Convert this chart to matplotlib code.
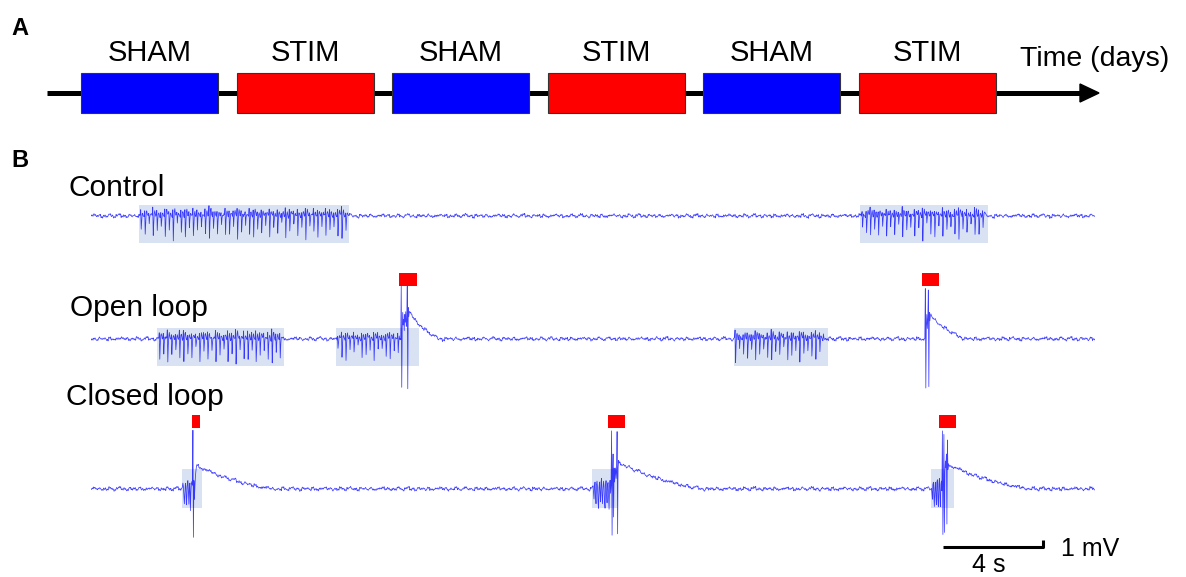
import numpy as np
import matplotlib
matplotlib.use('Agg')
import matplotlib.pyplot as plt
from matplotlib.patches import Rectangle, Polygon

plt.rcParams['font.family'] = ['Liberation Sans', 'DejaVu Sans']

# ---- panel A: protocol ----
phase_labels = ['SHAM', 'STIM', 'SHAM', 'STIM', 'SHAM', 'STIM']
phase_colors = ['#0000ff', '#ff0000', '#0000ff', '#ff0000', '#0000ff', '#ff0000']

# ---- panel B: traces (time in s, voltage in mV) ----
dt = 0.02
t_end = 40.0

# baseline wiggle (mV)
noise_fast = [0.06, -0.04, 0.12, 0.02, -0.09, 0.05, 0.15, -0.03, -0.11, 0.04,
              0.08, -0.06, 0.01, 0.14, -0.05, -0.12, 0.03, 0.09, -0.01, 0.11,
              -0.08, 0.02, 0.06, -0.15, 0.05, 0.10, -0.03, -0.07, 0.13, 0.00,
              -0.10, 0.07, 0.04, -0.05, 0.12, -0.02, 0.08]
noise_slow = [0.05, 0.18, -0.04, 0.11, -0.16, 0.02, -0.09, 0.21, 0.00, -0.18,
              0.09, 0.24, -0.07, 0.04, -0.20, 0.14, -0.02, 0.08, -0.13, 0.17,
              -0.06, -0.12, 0.03]

# seizure spike depths (mV) and shape of one spike
burst_depth = [1.8, 2.6, 1.2, 3.1, 2.2, 1.5, 2.9, 1.9, 3.4, 1.3, 2.4, 2.8, 1.6,
               3.0, 2.1, 1.4, 2.7, 3.3, 1.8, 2.3, 1.1, 2.9, 2.5, 1.7, 3.2, 2.0,
               1.5, 2.6, 3.0, 1.9, 2.4, 1.3, 2.8]
spike_shape = [0.0, 0.35, -1.0, -0.3, 0.15, 0.25, 0.1, 0.0]

# after-stimulus decay envelope
decay_x = [0, 0.08, 0.17, 0.25, 0.33, 0.42, 0.5, 0.58, 0.67, 0.75, 0.83, 0.92, 1.0]
decay_y = [1.0, 0.87, 0.75, 0.64, 0.54, 0.45, 0.37, 0.29, 0.22, 0.15, 0.09, 0.04, 0.0]

# Control
ctrl_bursts = [(1.95, 10.25, 1.0), (30.7, 35.65, 1.0)]
ctrl_shades = [(1.91, 10.28), (30.64, 35.74)]

# Open loop
open_bursts = [(2.7, 7.6, 1.1), (9.8, 12.3, 0.9), (25.65, 29.2, 1.0)]
open_shades = [(2.63, 7.69), (9.76, 13.07), (25.62, 29.36)]
open_stim_on = [12.35, 33.25]
open_stim_vals = [[7.7, -6.9, 1.5, 3.8, 2.0, 2.8, 1.2, 3.5, 2.4, 3.9, 1.8, 2.6,
                   7.7, -7.1, 4.5, 3.2, 3.9],
                  [7.2, -7.0, 2.0, 3.5, 1.5, 3.0, 7.0, -6.8, 3.8, 2.6, 3.3]]
open_decay_amp = [3.7, 3.3]
open_decay_dur = [1.2, 1.4]
open_red = [(12.27, 12.97), (33.1, 33.8)]

# Closed loop
closed_shades = [(3.63, 4.42), (19.96, 20.96), (33.47, 34.38)]
closed_pre_on = [3.65, 19.98, 33.48]
closed_pre = [[0.3, 0.8, 0.2, -0.6, -1.8, -0.5, 0.9, 0.6, -2.5, -1.2, 0.8, 1.0,
               -0.3, -2.2, 0.2, 0.9, -3.0, -0.6, 0.7, 1.1, 0.4],
              [0.2, 0.6, -0.4, -1.5, 0.3, 0.9, -0.8, -2.2, 0.5, 1.2, 0.1, -1.6,
               -2.6, 0.4, 1.0, -0.5, -1.9, 0.7, 1.3, -1.0, -2.4, 0.2, 1.1, 0.3,
               -1.7, -2.8, 0.6, 1.4, -0.6, -2.0, 0.8, 1.0, -1.2, -3.0, 0.4, 1.2,
               -0.8, 0.5],
              [0.3, -0.5, -1.6, 0.6, 1.0, -1.2, -2.3, 0.4, 1.1, -0.8, -2.0, 0.7,
               1.2, -1.5, -2.7, 0.5, 1.4, -0.9, -2.4, 0.6, 1.0, -0.3]]
closed_stim_vals = [[8.4, -6.9, 1.2, -1.5, 0.4, 1.8, 2.6, 3.2],
                    [8.3, -6.6, 2.0, 5.0, -4.0, 3.0, 1.0, 2.2, 3.0, 1.5, 2.5,
                     8.2, -6.4, 3.0, 4.1, 3.7],
                    [8.3, -6.5, 1.0, 7.8, -6.2, 2.5, 4.0, 3.0, 5.0, -5.0, 7.0,
                     2.8, 3.6, 3.4]]
closed_decay_amp = [3.3, 3.7, 3.4]
closed_decay_dur = [3.0, 3.3, 3.2]
closed_red = [(4.02, 4.34), (20.6, 21.27), (33.78, 34.46)]

t = np.arange(0, t_end + dt / 2, dt)
n = len(t)


def idx(sec):
    return int(round(sec / dt))


def build_trace(shift, bursts=(), stim_on=(), stim_vals=(), decay_amp=(),
                decay_dur=(), pre_on=(), pre_vals=()):
    v = np.resize(np.roll(noise_fast, shift), n)
    v = v + np.resize(np.repeat(np.roll(noise_slow, shift), 5), n)
    for k, (t0, t1, sc) in enumerate(bursts):
        i0, i1 = idx(t0), idx(t1)
        depths = np.roll(burst_depth, 7 * k + shift)
        train = np.outer(np.resize(depths, (i1 - i0) // 8 + 1), spike_shape).ravel()
        v[i0:i1] += sc * train[:i1 - i0]
    for k in range(len(pre_on)):
        p0 = idx(pre_on[k])
        v[p0:p0 + len(pre_vals[k])] += np.array(pre_vals[k])
    for k in range(len(stim_on)):
        s0 = idx(stim_on[k]) if len(pre_on) == 0 else idx(pre_on[k]) + len(pre_vals[k])
        vals = np.array(stim_vals[k])
        v[s0:s0 + len(vals)] = vals
        j0 = s0 + len(vals)
        nd = idx(decay_dur[k])
        env = decay_amp[k] * np.interp(np.linspace(0, 1, nd), decay_x, decay_y)
        v[j0:j0 + nd] += env
    return v


ctrl = build_trace(0, ctrl_bursts)
openl = build_trace(11, open_bursts, open_stim_on, open_stim_vals,
                    open_decay_amp, open_decay_dur)
closed = build_trace(23, (), closed_pre_on, closed_stim_vals, closed_decay_amp,
                     closed_decay_dur, closed_pre_on, closed_pre)

# ---- figure ----
W, H = 1186, 577
fig = plt.figure(figsize=(W / 100, H / 100), dpi=100)
ax = fig.add_axes([0, 0, 1, 1])
ax.set_xlim(0, W)
ax.set_ylim(H, 0)
ax.axis('off')

# panel A (pixel layout)
ax.plot([47, 1082], [93, 93], color='black', lw=3.6, solid_capstyle='butt', zorder=1)
ax.add_patch(Polygon([[1080, 84], [1099, 93], [1080, 102]], closed=True,
                     color='black', zorder=1))
box_w, step = 137, 155.6
for i, (lab, col) in enumerate(zip(phase_labels, phase_colors)):
    x0 = 81 + i * step
    ax.add_patch(Rectangle((x0, 73), box_w, 40, facecolor=col,
                           edgecolor='#333333', lw=0.8, zorder=2))
    ax.text(x0 + box_w / 2, 61, lab, fontsize=21, ha='center', va='baseline')
ax.text(1020, 66, 'Time (days)', fontsize=20.5, ha='left', va='baseline')
ax.text(11, 35, 'A', fontsize=17, fontweight='bold', va='baseline')
ax.text(11, 167, 'B', fontsize=17, fontweight='bold', va='baseline')

ax.text(68, 196, 'Control', fontsize=21.5, va='baseline')
ax.text(70, 316, 'Open loop', fontsize=21.5, va='baseline')
ax.text(66, 405, 'Closed loop', fontsize=21.5, va='baseline')

# panel B axes: x in seconds, y in mV (1 mV = 7 px)
mv_px = 7.0
axb = fig.add_axes([91 / W, 0, 1004 / W, 1])
axb.set_xlim(0, t_end)
axb.set_ylim(0, H / mv_px)
axb.axis('off')
axb.patch.set_alpha(0)

base_ctrl = (H - 216) / mv_px
base_open = (H - 339) / mv_px
base_closed = (H - 489) / mv_px

shade_col = '#d9e2f3'
trace_kw = dict(color='#0000ff', lw=0.55, alpha=0.75, zorder=3)

for (a, b) in ctrl_shades:
    axb.add_patch(Rectangle((a, base_ctrl - 3.86), b - a, 5.43,
                            facecolor=shade_col, edgecolor='none', zorder=1))
for (a, b) in open_shades:
    axb.add_patch(Rectangle((a, base_open - 3.86), b - a, 5.43,
                            facecolor=shade_col, edgecolor='none', zorder=1))
for (a, b) in closed_shades:
    axb.add_patch(Rectangle((a, base_closed - 2.71), b - a, 5.57,
                            facecolor=shade_col, edgecolor='none', zorder=1))

for (a, b) in open_red:
    axb.add_patch(Rectangle((a, base_open + 7.57), b - a, 1.86,
                            facecolor='#ff0000', edgecolor='none', zorder=4))
for (a, b) in closed_red:
    axb.add_patch(Rectangle((a, base_closed + 8.71), b - a, 1.86,
                            facecolor='#ff0000', edgecolor='none', zorder=4))

axb.plot(t, base_ctrl + ctrl, **trace_kw)
axb.plot(t, base_open + openl, **trace_kw)
axb.plot(t, base_closed + closed, **trace_kw)

# scale bar: 4 s, 1 mV
sb_t0, sb_y = 33.94, (H - 546.7) / mv_px
axb.plot([sb_t0, sb_t0 + 4, sb_t0 + 4], [sb_y, sb_y, sb_y + 1],
         color='black', lw=2.2, solid_capstyle='butt', zorder=5)
ax.text(989, 572, '4 s', fontsize=18, ha='center', va='baseline')
ax.text(1061, 556, '1 mV', fontsize=18, ha='left', va='baseline')

fig.savefig('out.png', dpi=100)
